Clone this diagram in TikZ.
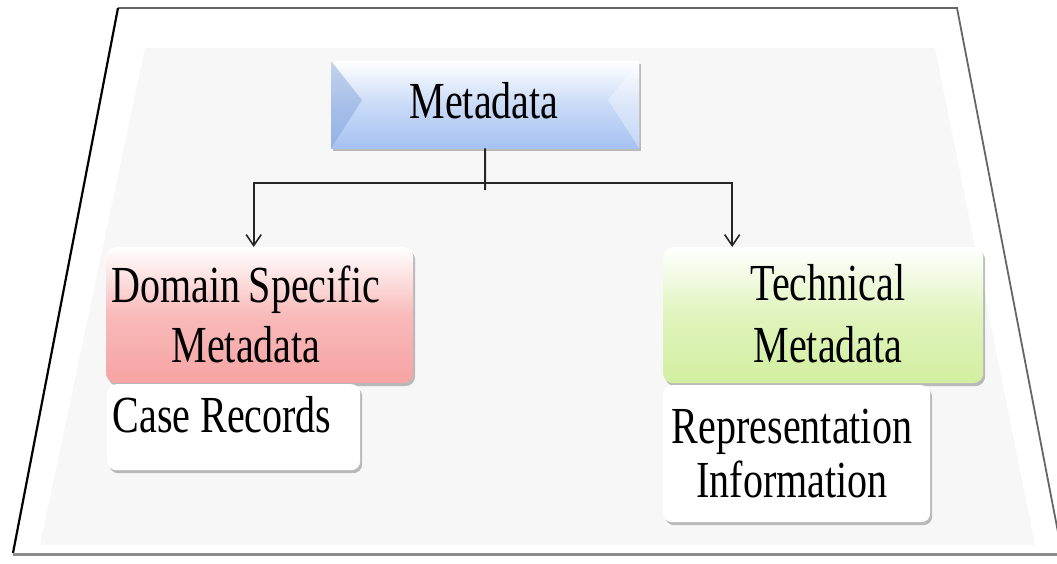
\documentclass[tikz,border=0pt]{standalone}
\usepackage{fontspec}
\setmainfont{Liberation Serif}[FakeStretch=0.77]
\usetikzlibrary{arrows.meta,shadows}
\definecolor{framefill}{HTML}{F7F7F7}
\definecolor{blueB}{HTML}{A6C2F2}
\definecolor{blueD}{HTML}{7F9FD8}
\definecolor{pinkB}{HTML}{F7A3A3}
\definecolor{greenB}{HTML}{D2EFA0}
\tikzset{
  bigtext/.style={font=\fontsize{52}{60}\selectfont, text=black},
  shadowed/.style={drop shadow={shadow xshift=2pt, shadow yshift=-3pt, fill=black, opacity=0.25}},
  metabox/.style={rectangle, minimum width=308pt, minimum height=87pt, inner sep=0pt,
    top color=white, bottom color=blueB, middle color=blueB!60, shadowed},
  catbox/.style={rectangle, rounded corners=10pt, inner sep=0pt, shadowed},
  subbox/.style={rectangle, rounded corners=9pt, inner sep=0pt, top color=white,
    bottom color=white, middle color=white, shadowed},
  conn/.style={line width=2pt, draw=black!85},
  arr/.style={conn, -{Straight Barb[length=11pt,width=15pt,line width=1.6pt]}},
}
\begin{document}
\begin{tikzpicture}[x=1pt,y=-1pt]
\useasboundingbox (0,0) rectangle (1057,563);
% frame
\fill[white] (118,8) -- (957,8) -- (1062,553) -- (13,553) -- cycle;
\fill[framefill] (145,48) -- (935,48) -- (1035,545) -- (40,545) -- cycle;
\draw[line width=1.8pt, black!60] (118,8) -- (957,8) -- (1062,553);
\draw[line width=2.2pt, black] (118,8) -- (13,553);
\draw[line width=3pt, black!45] (13,554.5) -- (1062,554.5);
% top node
\node[metabox, anchor=north west] (meta) at (331,61) {};
\fill[blueD, opacity=0.45] (meta.north west) -- (362,100) -- (meta.south west) -- cycle;
\fill[white, opacity=0.35] (meta.north east) -- (608,100) -- (meta.south east) -- cycle;
\node[bigtext, anchor=base] (metat) at (484,118) {Metadata};
% category boxes
\node[catbox, anchor=north west, minimum width=307pt, minimum height=136pt,
  top color=white, bottom color=pinkB, middle color=pinkB!75] (dom) at (106,247) {};
\node[bigtext, align=center, anchor=base, font=\fontsize{52}{60}\selectfont] (domt) at (246,362) {Domain\kern-2pt\ Specific\\Metadata};
\node[catbox, anchor=north west, minimum width=320pt, minimum height=136pt,
  top color=white, bottom color=greenB, middle color=greenB!70] (tech) at (663,247) {};
\node[bigtext, align=center, anchor=base, font=\fontsize{52}{62}\selectfont] (techt) at (828,362) {Technical\\Metadata};
% sub boxes
\node[subbox, anchor=north west, minimum width=253pt, minimum height=86pt] (case) at (107,384) {};
\node[bigtext, anchor=base west] (caset) at (109,432) {Case Records};
\node[subbox, anchor=north west, minimum width=267pt, minimum height=137pt] (rep) at (663,385) {};
\node[bigtext, align=center, anchor=base, font=\fontsize{52}{54}\selectfont] (rept) at (792,497) {Representation\\Information};
% connectors
\coordinate (jn) at (485,183);
\coordinate (stub) at (485,190);
\draw[conn] (meta.south) -- (stub);
\draw[arr] (jn) -| ([xshift=-6pt]dom.north);
\draw[arr] (jn) -| ([xshift=-91pt]tech.north);
\end{tikzpicture}
\end{document}
